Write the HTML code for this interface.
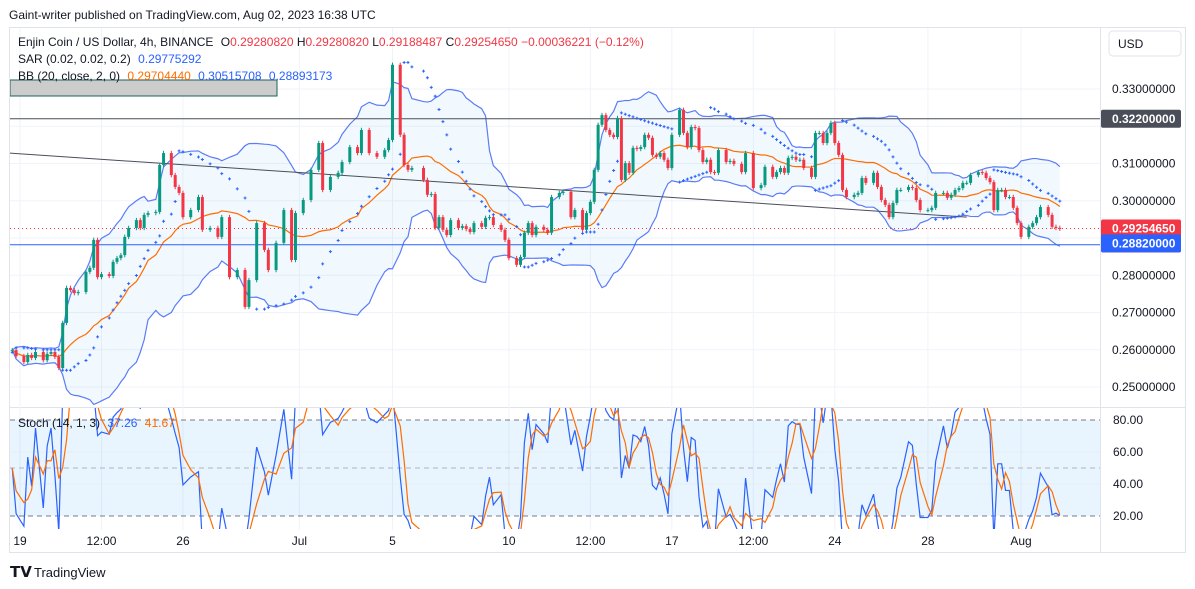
<!DOCTYPE html>
<html><head><meta charset="utf-8">
<style>
html,body{margin:0;padding:0;background:#fff;width:1195px;height:589px;overflow:hidden;font-family:"Liberation Sans",sans-serif;}
svg{display:block}
text{font-family:"Liberation Sans",sans-serif}
</style></head>
<body>
<svg id="chart" width="1195" height="589" viewBox="0 0 1195 589" xmlns="http://www.w3.org/2000/svg">
<defs>
<clipPath id="mainClip"><rect x="10" y="28" width="1090" height="379"/></clipPath>
<clipPath id="stochClip"><rect x="10" y="408" width="1090" height="121"/></clipPath>
</defs>
<text x="9" y="19" font-size="12" fill="#131722">Gaint-writer published on TradingView.com, Aug 02, 2023 16:38 UTC</text>
<rect x="9.5" y="27.5" width="1176" height="525" fill="none" stroke="#e0e3eb"/>
<line x1="10" y1="407.5" x2="1185" y2="407.5" stroke="#e0e3eb"/>
<line x1="1100.5" y1="28" x2="1100.5" y2="552" stroke="#e0e3eb"/>
<g id="grid"></g>
<g id="mainPane" clip-path="url(#mainClip)"></g>
<g id="stochPane" clip-path="url(#stochClip)"></g>
<g id="axes"></g>
<rect x="1109" y="31" width="72" height="25" rx="4" fill="#fff" stroke="#e0e3eb"/>
<text x="1118" y="48" font-size="12" fill="#131722">USD</text>
<g font-size="12">
<text x="18" y="46" fill="#131722">Enjin Coin / US Dollar, 4h, BINANCE <tspan dx="4">O</tspan><tspan fill="#f23645">0.29280820</tspan> H<tspan fill="#f23645">0.29280820</tspan> L<tspan fill="#f23645">0.29188487</tspan> C<tspan fill="#f23645">0.29254650</tspan> <tspan fill="#f23645">−0.00036221 (−0.12%)</tspan></text>
<text x="18" y="63" fill="#131722">SAR (0.02, 0.02, 0.2) <tspan fill="#2962ff" dx="4">0.29775292</tspan></text>
<text x="18" y="80" fill="#131722">BB (20, close, 2, 0) <tspan fill="#ff6d00" dx="4">0.29704440</tspan> <tspan fill="#2962ff" dx="4">0.30515708</tspan> <tspan fill="#2962ff" dx="4">0.28893173</tspan></text>
<text x="18" y="427" fill="#131722">Stoch (14, 1, 3) <tspan fill="#2962ff" dx="4">37.26</tspan> <tspan fill="#ff6d00" dx="4">41.67</tspan></text>
</g>
<g>
<text x="10" y="577" font-size="15" font-weight="bold" fill="#131722">𝗧𝗩</text>
<text x="34" y="577" font-size="13" fill="#131722">TradingView</text>
</g>
</svg>
<script>
// bar index = 4h bars since Jun 19 00:00 UTC
const bars = [-2,-1,1,2,3,4,6,7,8,9,10,11,12,13,14,15,17,18,19,20,21,23,24,25,26,27,28,30,31,32,33,35,36,37,39,40,41,42,44,46,47,49,51,52,54,56,58,59,61,63,64,66,68,70,71,73,75,77,78,80,82,83,85,87,88,90,92,94,95,
96,98,99,100,101,104,105,106,107,108,109,110,111,113,114,115,116,117,119,120,121,122,124,125,126,128,129,130,131,132,133,135,136,137,139,140,142,143,145,146,147,148,149,150,151,152,153,154,155,156,157,158,159,160,161,162,163,164,165,166,167,168,170,171,172,173,174,175,176,177,178,179,180,182,183,184,186,187,
189,191,192,194,195,196,197,198,199,200,201,202,204,205,206,207,208,209,210,211,212,213,215,216,217,218,220,221,222,223,224,225,226,227,229,230,231,232,234,235,236,238,239,240,241,242,243,244,245,247,248,249,250,251,252,253,254,255,256,257,258,260,261,262,263,265,266,267,268];
const closes = [.2599,.2583,.2567,.2586,.2578,.2594,.2572,.2589,.2594,.2581,.2551,.2672,.2766,.2760,.2752,.2755,.2809,.2820,.2895,.2795,.2803,.2798,.2836,.2846,.2854,.2903,.2927,.2948,.2927,.2962,.2967,.2970,.3096,.3128,.3069,.3037,.3021,.2956,.2975,.3010,.2922,.2927,.2903,.2956,.2795,.2814,.2715,.2787,.2940,.2868,.2814,.2887,.2975,.2841,.2967,.3002,.3083,.3155,.3029,.3064,.3075,.3104,.3144,.3128,.3190,.3128,.3118,.3136,.3163,
.3365,.3177,.3096,.3083,.3088,.3056,.3016,.3018,.2927,.2956,.2922,.2908,.2948,.2927,.2932,.2924,.2916,.2940,.2930,.2954,.2956,.2935,.2922,.2895,.2846,.2828,.2849,.2914,.2940,.2908,.2930,.2922,.2914,.3010,.3021,.3024,.2956,.2975,.2922,.2967,.2997,.3083,.3204,.3230,.3190,.3177,.3171,.3222,.3056,.3101,.3075,.3142,.3139,.3144,.3177,.3169,.3123,.3118,.3128,.3110,.3088,.3177,.3244,.3182,.3144,.3198,.3195,.3136,.3104,.3110,.3077,.3075,.3136,.3104,.3107,.3099,.3077,.3128,
.3034,.3042,.3091,.3064,.3077,.3088,.3075,.3115,.3118,.3110,.3110,.3088,.3064,.3182,.3182,.3155,.3182,.3209,.3155,.3123,.3029,.3010,.3016,.3021,.3061,.3048,.3075,.3037,.3002,.2989,.2956,.2994,.3029,.3029,.3037,.3034,.3002,.2975,.2975,.2981,.3021,.3021,.3008,.3016,.3029,.3034,.3048,.3048,.3069,.3077,.3075,.3061,.3050,.2975,.3029,.3029,.3010,.3010,.2981,.2940,.2903,.2930,.2940,.2956,.2983,.2962,.2930,.2927,.2925];
const priceTicks = [0.25,0.26,0.27,0.28,0.29,0.30,0.31,0.32,0.33];
const priceTickLabels = ["0.25000000","0.26000000","0.27000000","0.28000000","","0.30000000","0.31000000","","0.33000000"];
const timeTickBars = [0,21,42,72,96,126,147,168,189,210,234,258];
const timeTickLabels = ["19","12:00","26","Jul","5","10","12:00","17","12:00","24","28","Aug"];
const stochTicks = [20,40,60,80];
const stochTickLabels = ["20.00","40.00","60.00","80.00"];
const resistanceLevel = 0.322;
const supportLevel = 0.2882;
const lastPrice = 0.2925465;
const trendStart = [-3, 0.3128];
const trendEnd = [244, 0.2956];

const NS = "http://www.w3.org/2000/svg";
const xS = b => 20 + b * 3.88;
const yP = p => 387 - (p - 0.25) * 3725;
const yS = v => 548 - 1.6 * v;
function mk(tag, attrs, parent) {
  const e = document.createElementNS(NS, tag);
  for (const k in attrs) e.setAttribute(k, attrs[k]);
  parent.appendChild(e);
  return e;
}
const grid = document.getElementById('grid');
const main = document.getElementById('mainPane');
const stp = document.getElementById('stochPane');
const axes = document.getElementById('axes');

priceTicks.forEach((p, i) => {
  const l = mk('line', {x1: 10, x2: 1100, y1: yP(p), y2: yP(p), stroke: '#f0f3fa'}, grid);
  
  
  if (priceTickLabels[i]) {
    const t = mk('text', {x: 1112, y: yP(p) + 4, 'font-size': 12, fill: '#131722'}, axes);
    t.textContent = priceTickLabels[i];
    
    
  }
});
timeTickBars.forEach((b, i) => {
  const l = mk('line', {x1: xS(b), x2: xS(b), y1: 28, y2: 530, stroke: '#f0f3fa'}, grid);
  
  
  const t = mk('text', {x: xS(b), y: 545, 'font-size': 12, fill: '#131722', 'text-anchor': 'middle'}, axes);
  t.textContent = timeTickLabels[i];
  
  
});

const n = closes.length;
const opens = closes.map((c, i) => i ? closes[i - 1] : c);
const highs = closes.map((c, i) => Math.max(c, opens[i]) + 0.0006);
const lows = closes.map((c, i) => Math.min(c, opens[i]) - 0.0006);

const bbB = [], bbU = [], bbL = [];
for (let i = 0; i < n; i++) {
  const s = closes.slice(Math.max(0, i - 19), i + 1);
  const m = s.reduce((a, b) => a + b, 0) / s.length;
  const sd = Math.sqrt(s.reduce((a, b) => a + (b - m) * (b - m), 0) / s.length);
  bbB.push(m); bbU.push(m + 2 * sd); bbL.push(m - 2 * sd);
}
let area = '';
for (let i = 0; i < n; i++) area += (i ? 'L' : 'M') + xS(bars[i]) + ',' + yP(bbU[i]);
for (let i = n - 1; i >= 0; i--) area += 'L' + xS(bars[i]) + ',' + yP(bbL[i]);
const bbFill = mk('path', {d: area + 'Z', fill: 'rgba(33,150,243,0.06)'}, main);


function line(arr, yf, color, parent, name) {
  const d = arr.map((v, i) => (i ? 'L' : 'M') + xS(bars[i]) + ',' + yf(v)).join('');
  const p = mk('path', {d, fill: 'none', stroke: color, 'stroke-width': 1.2}, parent);
  
  
}
line(bbU, yP, '#5b7cf7', main, 'bb-upper-band');
line(bbL, yP, '#5b7cf7', main, 'bb-lower-band');
line(bbB, yP, '#ff6d00', main, 'bb-basis');

const res = mk('line', {x1: 10, x2: 1100, y1: yP(resistanceLevel), y2: yP(resistanceLevel), stroke: '#4a4e59', 'stroke-width': 1}, main);


const sup = mk('line', {x1: 10, x2: 1100, y1: yP(supportLevel), y2: yP(supportLevel), stroke: '#2962ff', 'stroke-width': 1}, main);


const tl = mk('line', {x1: xS(trendStart[0]), y1: yP(trendStart[1]), x2: xS(trendEnd[0]), y2: yP(trendEnd[1]), stroke: '#4a4e59', 'stroke-width': 1}, main);


const box = mk('rect', {x: 10, y: 80, width: 267, height: 16, fill: '#cccccc', stroke: '#1f5f5b'}, main);


const lp = mk('line', {x1: 10, x2: 1100, y1: yP(lastPrice), y2: yP(lastPrice), stroke: '#f23645', 'stroke-dasharray': '1,3'}, main);



for (let i = 0; i < n; i++) {
  const up = closes[i] >= opens[i];
  const col = up ? '#089981' : '#f23645';
  const x = xS(bars[i]);
  const g = mk('g', {}, main);
  
  
  mk('line', {x1: x, x2: x, y1: yP(highs[i]), y2: yP(lows[i]), stroke: col, 'stroke-width': 1}, g);
  const top = yP(Math.max(opens[i], closes[i])), bot = yP(Math.min(opens[i], closes[i]));
  mk('rect', {x: x - 1.5, y: top, width: 3, height: Math.max(1, bot - top), fill: col}, g);
}

const sar = [];
let upT = true, af = 0.02, ep = highs[0], s = lows[0];
for (let i = 0; i < n; i++) {
  if (i > 0) {
    s = s + af * (ep - s);
    if (upT) {
      s = Math.min(s, lows[i - 1], i > 1 ? lows[i - 2] : lows[i - 1]);
      if (lows[i] < s) { upT = false; s = ep; ep = lows[i]; af = 0.02; }
      else if (highs[i] > ep) { ep = highs[i]; af = Math.min(0.2, af + 0.02); }
    } else {
      s = Math.max(s, highs[i - 1], i > 1 ? highs[i - 2] : highs[i - 1]);
      if (highs[i] > s) { upT = true; s = ep; ep = highs[i]; af = 0.02; }
      else if (lows[i] < ep) { ep = lows[i]; af = Math.min(0.2, af + 0.02); }
    }
  }
  sar.push(s);
}
sar.forEach((v, i) => {
  const x = xS(bars[i]), y = yP(v);
  const p = mk('path', {d: `M${x - 1.5},${y}H${x + 1.5}M${x},${y - 1.5}V${y + 1.5}`, stroke: '#2962ff', 'stroke-width': 1}, main);
  
  
});

const band = mk('rect', {x: 10, y: yS(80), width: 1090, height: yS(20) - yS(80), fill: 'rgba(33,150,243,0.1)'}, stp);


stochTicks.forEach((v, i) => {
  const dashed = v === 20 || v === 80;
  const l = mk('line', {x1: 10, x2: 1100, y1: yS(v), y2: yS(v), stroke: dashed ? '#787b86' : '#e8ebf2', 'stroke-dasharray': dashed ? '5,4' : ''}, stp);
  
  
  const t = mk('text', {x: 1113, y: yS(v) + 4, 'font-size': 12, fill: '#131722'}, axes);
  t.textContent = stochTickLabels[i];
  
  
});
const mid = mk('line', {x1: 10, x2: 1100, y1: yS(50), y2: yS(50), stroke: '#b2b5be', 'stroke-dasharray': '5,4'}, stp);


const K = [], D = [];
for (let i = 0; i < n; i++) {
  const a = Math.max(0, i - 13);
  const hh = Math.max(...highs.slice(a, i + 1)), ll = Math.min(...lows.slice(a, i + 1));
  K.push(hh > ll ? 100 * (closes[i] - ll) / (hh - ll) : 50);
  const k3 = K.slice(Math.max(0, i - 2));
  D.push(k3.reduce((x, y) => x + y, 0) / k3.length);
}
line(K, yS, '#2962ff', stp, 'stoch-k-line');
line(D, yS, '#ff6d00', stp, 'stoch-d-line');

function tag(p, bg, txt, name, h) {
  const y = yP(p);
  const r = mk('rect', {x: 1101, y: y - 9, width: 80, height: h || 18, rx: 2, fill: bg}, axes);
  
  
  txt.forEach((s, j) => {
    const t = mk('text', {x: 1112, y: y + 4 + j * 16, 'font-size': 12, fill: '#fff', 'font-weight': 'bold'}, axes);
    t.textContent = s;
    
    
  });
}
tag(resistanceLevel, '#4a4e59', ['0.32200000'], 'resistance-price-tag');
tag(lastPrice, '#f23645', ['0.29254650', '03:21:19'], 'last-price-tag', 33);
tag(supportLevel + 0.00035, '#2962ff', ['0.28820000'], 'support-price-tag');
</script>
</body></html>
